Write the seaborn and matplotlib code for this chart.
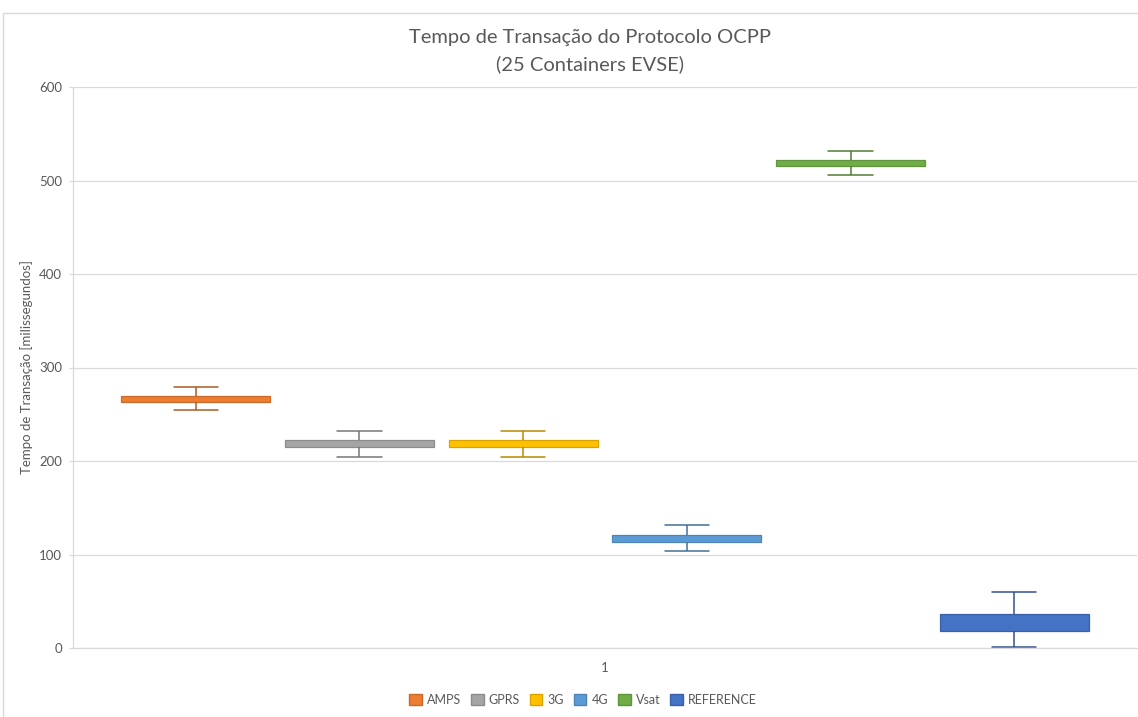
import matplotlib
matplotlib.use("Agg")
import matplotlib.pyplot as plt
from matplotlib.patches import Patch, Rectangle
import matplotlib.colors as mcolors
import numpy as np
import pandas as pd
import seaborn as sns

# Five-number summaries (min, Q1, median, Q3, max) in milliseconds
redes = ["AMPS", "GPRS", "3G", "4G", "Vsat", "REFERENCE"]
amps = [255, 263, 267, 270, 279]
gprs = [204, 215, 219, 222, 232]
g3 = [204, 215, 219, 222, 232]
g4 = [104, 113, 117, 121, 132]
vsat = [506, 515, 519, 522, 532]
reference = [1, 18, 27, 36, 60]
categoria = "1"

cores = ["#ED7D31", "#A5A5A5", "#FFC000", "#5B9BD5", "#70AD47", "#4472C4"]

series = [amps, gprs, g3, g4, vsat, reference]
df = pd.DataFrame(
    [(categoria, rede, v) for rede, vals in zip(redes, series) for v in vals],
    columns=["grupo", "rede", "tempo"],
)

sns.set_theme(style="white")
plt.rcParams["font.family"] = ["Lato", "DejaVu Sans"]
texto = "#595959"
grade = "#D9D9D9"

fig = plt.figure(figsize=(11.38, 7.17), dpi=100)
W, H = 1138, 717
ax = fig.add_axes([73 / W, 1 - 648 / H, (1137 - 73) / W, (648 - 87) / H])

sns.boxplot(
    data=df, x="grupo", y="tempo", hue="rede", hue_order=redes,
    palette=cores, whis=(0, 100), width=0.923, gap=0.09,
    linewidth=1.0, showfliers=False, legend=False, ax=ax,
    capwidths=0.0414,
)

def escurecer(c, f):
    r, g, b = mcolors.to_rgb(c)
    return (r * f, g * f, b * f)

for cont, cor in zip(ax.containers, cores):
    borda = escurecer(cor, 0.85)
    linha = escurecer(cor, 0.72)
    for box in cont.boxes:
        box.set_facecolor(cor)
        box.set_edgecolor(borda)
        box.set_linewidth(0.9)
    for ln in list(cont.whiskers) + list(cont.caps):
        ln.set_color(linha)
        ln.set_linewidth(1.1)
    for ln in cont.medians:
        ln.set_color(cor)
        ln.set_linewidth(0.5)

ax.set_xlim(-0.5, 0.5)
ax.set_ylim(0, 600)
ax.set_yticks(np.arange(0, 601, 100))
ax.yaxis.grid(True, color=grade, linewidth=0.9)
ax.set_axisbelow(True)
for s in ["top", "right"]:
    ax.spines[s].set_visible(False)
ax.spines["left"].set_color(grade)
ax.spines["bottom"].set_color(grade)
ax.spines["left"].set_linewidth(0.9)
ax.spines["bottom"].set_linewidth(0.9)
ax.tick_params(axis="y", colors=texto, labelsize=9.5, length=3, width=0.9,
               color=grade, pad=5, left=True)
ax.tick_params(axis="x", colors=texto, labelsize=9.5, length=0, pad=10)
ax.set_xlabel("")
ax.set_ylabel("Tempo de Transação [milissegundos]", color=texto, fontsize=9.5,
              labelpad=4)

fig.text(590 / W, 1 - 51 / H,
         "Tempo de Transação do Protocolo OCPP\n(25 Containers EVSE)",
         ha="center", va="center", fontsize=14.5, color=texto,
         linespacing=1.65)

handles = [Patch(facecolor=c, edgecolor=escurecer(c, 0.85), label=r)
           for r, c in zip(redes, cores)]
fig.legend(handles=handles, loc="center", bbox_to_anchor=(583 / W, 1 - 700 / H),
           ncol=6, frameon=False, fontsize=9, labelcolor=texto,
           handlelength=1.0, handleheight=1.0, handletextpad=0.4,
           columnspacing=0.8)

# chart border
fig.patches.append(Rectangle((3 / W, -0.05), 1.2, 1 - 13 / H + 0.05,
                             transform=fig.transFigure, fill=False,
                             edgecolor=grade, linewidth=1.0))

fig.savefig("out.png", dpi=100, facecolor="white")
